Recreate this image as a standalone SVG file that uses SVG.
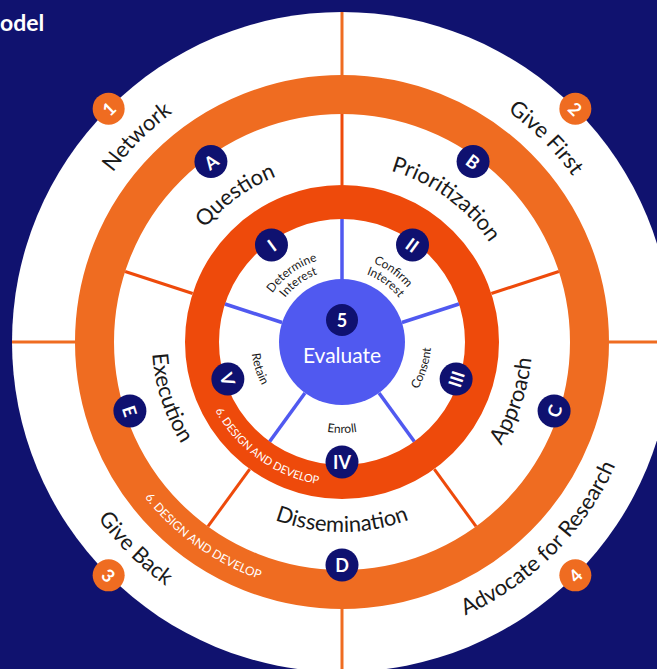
<svg xmlns="http://www.w3.org/2000/svg" xmlns:xlink="http://www.w3.org/1999/xlink" width="657" height="669" viewBox="0 0 657 669">
<style>
.lbl{font-family:Lato,"Liberation Sans",sans-serif;fill:#1a1a1a;font-size:22px}
.sm{font-family:Lato,"Liberation Sans",sans-serif;fill:#1a1a1a;font-size:12px}
.dd{font-family:Lato,"Liberation Sans",sans-serif;fill:#ffffff}
.bt{font-family:Lato,"Liberation Sans",sans-serif;fill:#ffffff;font-weight:bold;font-size:18px;text-anchor:middle;dominant-baseline:central}
.nb{fill:#0f1170}
.ob{fill:#ef6c21}
.lo{stroke:#ef6c21;stroke-width:3;fill:none}
.lr{stroke:#ee4a0b;stroke-width:3;fill:none}
.lb{stroke:#5059f0;stroke-width:3.5;fill:none}
</style>
<defs>
<path id="pNet" d="M57,342 A285,285 0 0 1 342,57"/>
<path id="pGF" d="M342,58 A284,284 0 0 1 626,342"/>
<path id="pGB" d="M41,342 A301,301 0 0 0 342,643"/>
<path id="pAd" d="M342,642 A300,300 0 0 0 642,342"/>
<path id="pQ" d="M166.19,314.15 A178,178 0 0 1 369.85,166.19"/>
<path id="pP" d="M314.15,166.19 A178,178 0 0 1 517.81,314.15"/>
<path id="pAp" d="M425.29,512.77 A190,190 0 0 0 512.77,258.71"/>
<path id="pDi" d="M207.65,476.35 A190,190 0 0 0 476.35,476.35"/>
<path id="pEx" d="M172.71,255.74 A190,190 0 0 0 255.74,511.29"/>
<path id="pDet" d="M258.05,328.70 A85,85 0 0 1 355.30,258.05"/>
<path id="pInt1" d="M270.89,330.74 A72,72 0 0 1 353.26,270.89"/>
<path id="pCon" d="M328.70,258.05 A85,85 0 0 1 425.95,328.70"/>
<path id="pInt2" d="M330.74,270.89 A72,72 0 0 1 413.11,330.74"/>
<path id="pCs" d="M382.41,421.30 A89,89 0 0 0 421.30,301.59"/>
<path id="pEn" d="M277.65,406.35 A91,91 0 0 0 406.35,406.35"/>
<path id="pRe" d="M260.92,300.69 A91,91 0 0 0 300.69,423.08"/>
<path id="pDD1" d="M199.97,365.77 A144,144 0 0 0 365.77,484.03"/>
<path id="pDD2" d="M94.44,383.43 A251,251 0 0 0 383.43,589.56"/>
</defs>
<rect x="0" y="0" width="657" height="669" fill="#10126f"/>
<text x="0" y="31" font-family="Lato,'Liberation Sans',sans-serif" font-weight="bold" font-size="23" fill="#ffffff">odel</text>

<g id="rings">
<circle cx="342" cy="342" r="330" fill="#ffffff"/>
<circle cx="342" cy="342" r="247.5" fill="none" stroke="#ef6c21" stroke-width="39"/>
<circle cx="342" cy="342" r="140" fill="none" stroke="#ee4a0b" stroke-width="34"/>
<circle cx="342" cy="342" r="63" fill="#5059f0"/>
</g>

<g id="connectors">
<line class="lo" x1="342" y1="12" x2="342" y2="75"/>
<line class="lo" x1="12" y1="342" x2="75" y2="342"/>
<line class="lo" x1="609" y1="342" x2="672" y2="342"/>
<line class="lo" x1="342" y1="609" x2="342" y2="672"/>
<line class="lr" x1="342" y1="114" x2="342" y2="185"/>
<line class="lr" x1="491.32" y1="293.48" x2="558.84" y2="271.54"/>
<line class="lr" x1="434.28" y1="469.02" x2="476.02" y2="526.46"/>
<line class="lr" x1="249.72" y1="469.02" x2="207.98" y2="526.46"/>
<line class="lr" x1="192.68" y1="293.48" x2="125.16" y2="271.54"/>
<line class="lb" x1="342" y1="219" x2="342" y2="280"/>
<line class="lb" x1="401.92" y1="322.53" x2="458.98" y2="303.99"/>
<line class="lb" x1="379.03" y1="392.97" x2="414.30" y2="441.51"/>
<line class="lb" x1="304.97" y1="392.97" x2="269.70" y2="441.51"/>
<line class="lb" x1="282.08" y1="322.53" x2="225.02" y2="303.99"/>
</g>

<g id="outer-labels">
<text class="lbl"><textPath xlink:href="#pNet" href="#pNet" startOffset="50%" text-anchor="middle">Network</textPath></text>
<text class="lbl"><textPath xlink:href="#pGF" href="#pGF" startOffset="50%" text-anchor="middle">Give First</textPath></text>
<text class="lbl"><textPath xlink:href="#pGB" href="#pGB" startOffset="50%" text-anchor="middle">Give Back</textPath></text>
<text class="lbl"><textPath xlink:href="#pAd" href="#pAd" startOffset="50%" text-anchor="middle">Advocate for Research</textPath></text>
</g>

<g id="middle-labels">
<text class="lbl"><textPath xlink:href="#pQ" href="#pQ" startOffset="50%" text-anchor="middle">Question</textPath></text>
<text class="lbl"><textPath xlink:href="#pP" href="#pP" startOffset="50%" text-anchor="middle">Prioritization</textPath></text>
<text class="lbl"><textPath xlink:href="#pAp" href="#pAp" startOffset="50%" text-anchor="middle">Approach</textPath></text>
<text class="lbl"><textPath xlink:href="#pDi" href="#pDi" startOffset="50%" text-anchor="middle">Dissemination</textPath></text>
<text class="lbl"><textPath xlink:href="#pEx" href="#pEx" startOffset="50%" text-anchor="middle">Execution</textPath></text>
</g>

<g id="inner-labels">
<text class="sm"><textPath xlink:href="#pDet" href="#pDet" startOffset="50%" text-anchor="middle">Determine</textPath></text>
<text class="sm"><textPath xlink:href="#pInt1" href="#pInt1" startOffset="50%" text-anchor="middle">Interest</textPath></text>
<text class="sm"><textPath xlink:href="#pCon" href="#pCon" startOffset="50%" text-anchor="middle">Confirm</textPath></text>
<text class="sm"><textPath xlink:href="#pInt2" href="#pInt2" startOffset="50%" text-anchor="middle">Interest</textPath></text>
<text class="sm"><textPath xlink:href="#pCs" href="#pCs" startOffset="50%" text-anchor="middle">Consent</textPath></text>
<text class="sm"><textPath xlink:href="#pEn" href="#pEn" startOffset="50%" text-anchor="middle">Enroll</textPath></text>
<text class="sm"><textPath xlink:href="#pRe" href="#pRe" startOffset="50%" text-anchor="middle">Retain</textPath></text>
</g>

<g id="design-develop">
<text class="dd" font-size="11"><textPath xlink:href="#pDD1" href="#pDD1" startOffset="50%" text-anchor="middle">6. DESIGN AND DEVELOP</textPath></text>
<text class="dd" font-size="12"><textPath xlink:href="#pDD2" href="#pDD2" startOffset="50%" text-anchor="middle">6. DESIGN AND DEVELOP</textPath></text>
</g>

<g id="evaluate">
<circle class="nb" cx="342" cy="320" r="16"/>
<text class="bt" x="342" y="320" font-size="19">5</text>
<text x="342" y="363" text-anchor="middle" font-family="Lato,'Liberation Sans',sans-serif" font-size="21" fill="#ffffff">Evaluate</text>
</g>

<g id="node-1"><circle class="ob" cx="108.65" cy="108.65" r="16"/><text class="bt" x="108.65" y="108.65" transform="rotate(-45 108.65 108.65)">1</text></g>
<g id="node-2"><circle class="ob" cx="575.35" cy="108.65" r="16"/><text class="bt" x="575.35" y="108.65" transform="rotate(45 575.35 108.65)">2</text></g>
<g id="node-3"><circle class="ob" cx="108.65" cy="575.35" r="16"/><text class="bt" x="108.65" y="575.35" transform="rotate(45 108.65 575.35)">3</text></g>
<g id="node-4"><circle class="ob" cx="575.35" cy="575.35" r="16"/><text class="bt" x="575.35" y="575.35" transform="rotate(-45 575.35 575.35)">4</text></g>

<g id="node-A"><circle class="nb" cx="210.92" cy="161.59" r="16.5"/><text class="bt" x="210.92" y="161.59" transform="rotate(-36 210.92 161.59)">A</text></g>
<g id="node-B"><circle class="nb" cx="473.08" cy="161.59" r="16.5"/><text class="bt" x="473.08" y="161.59" transform="rotate(36 473.08 161.59)">B</text></g>
<g id="node-C"><circle class="nb" cx="554.09" cy="410.91" r="16.5"/><text class="bt" x="554.09" y="410.91" transform="rotate(-72 554.09 410.91)">C</text></g>
<g id="node-D"><circle class="nb" cx="342" cy="565" r="16.5"/><text class="bt" x="342" y="565">D</text></g>
<g id="node-E"><circle class="nb" cx="129.91" cy="410.91" r="16.5"/><text class="bt" x="129.91" y="410.91" transform="rotate(72 129.91 410.91)">E</text></g>

<g id="node-I"><circle class="nb" cx="271.47" cy="244.92" r="16.5"/><text class="bt" x="271.47" y="244.92" transform="rotate(-36 271.47 244.92)">I</text></g>
<g id="node-II"><circle class="nb" cx="412.53" cy="244.92" r="16.5"/><text class="bt" x="412.53" y="244.92" transform="rotate(36 412.53 244.92)">II</text></g>
<g id="node-III"><circle class="nb" cx="456.13" cy="379.08" r="16.5"/><text class="bt" x="456.13" y="379.08" transform="rotate(-72 456.13 379.08)">III</text></g>
<g id="node-IV"><circle class="nb" cx="342" cy="462" r="16.5"/><text class="bt" x="342" y="462">IV</text></g>
<g id="node-V"><circle class="nb" cx="227.87" cy="379.08" r="16.5"/><text class="bt" x="227.87" y="379.08" transform="rotate(72 227.87 379.08)">V</text></g>
</svg>
